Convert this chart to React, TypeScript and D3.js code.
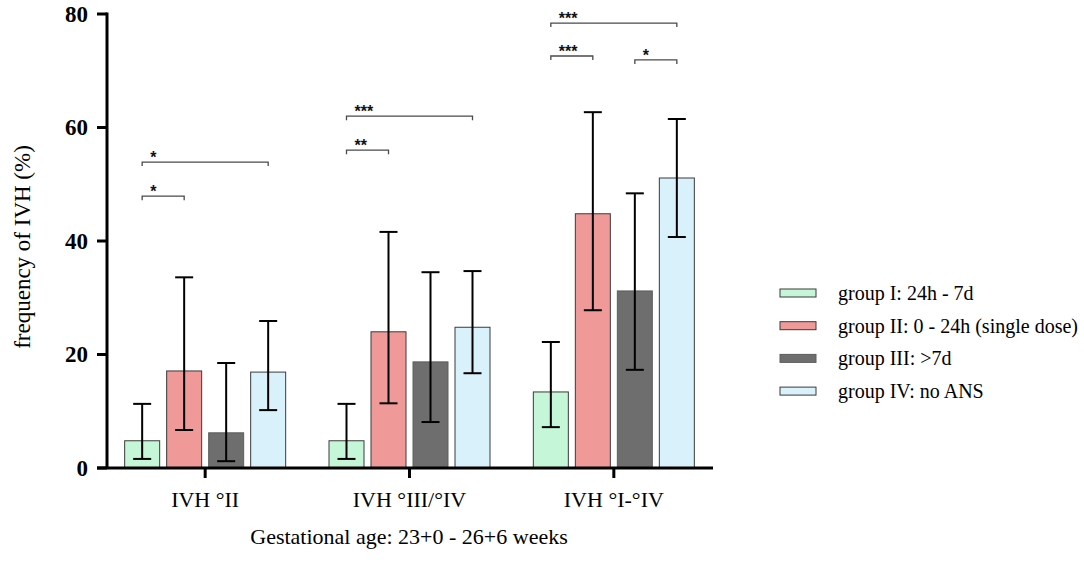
import React from "react";
import * as d3 from "d3";

const categories = ["IVH °II", "IVH °III/°IV", "IVH °I-°IV"];
const groups = ["group I: 24h - 7d", "group II: 0 - 24h (single dose)", "group III: >7d", "group IV: no ANS"];
const colors = ["#c6f6d8", "#ef9a98", "#6e6e6e", "#d9f1fb"];

// mean frequency per group, one value per category
const groupI = [4.8, 4.8, 13.4];
const groupII = [17.1, 24.0, 44.8];
const groupIII = [6.2, 18.7, 31.2];
const groupIV = [16.9, 24.8, 51.1];

// error bar bounds
const lowI = [1.6, 1.6, 7.2];
const lowII = [6.7, 11.4, 27.8];
const lowIII = [1.2, 8.1, 17.3];
const lowIV = [10.2, 16.7, 40.7];
const highI = [11.3, 11.3, 22.2];
const highII = [33.6, 41.6, 62.7];
const highIII = [18.5, 34.5, 48.4];
const highIV = [25.9, 34.7, 61.5];

const yTicks = [0, 20, 40, 60, 80];

// significance brackets: category, from group, to group, level, label
const sigCat = [0, 0, 1, 1, 2, 2, 2];
const sigFrom = [0, 0, 0, 0, 0, 2, 0];
const sigTo = [1, 3, 1, 3, 1, 3, 3];
const sigLevel = [47.9, 53.9, 56.0, 62.0, 72.6, 71.9, 78.4];
const sigLabel = ["*", "*", "**", "***", "***", "*", "***"];

const means = [groupI, groupII, groupIII, groupIV];
const lows = [lowI, lowII, lowIII, lowIV];
const highs = [highI, highII, highIII, highIV];

const width = 1084;
const height = 563;
const serif = "'Liberation Serif', 'Times New Roman', serif";

export default function App() {
    const x0 = d3.scaleBand().domain(categories).range([103, 716]);
    const x1 = d3.scaleBand().domain(groups).range([0, 161]).paddingInner(1 / 6);
    const y = d3.scaleLinear().domain([0, 80]).range([468, 14]);

    const groupLeft = (c: string) => (x0(c) as number) + x0.bandwidth() / 2 - 80.5;
    const barCenter = (ci: number, gi: number) =>
        groupLeft(categories[ci]) + (x1(groups[gi]) as number) + x1.bandwidth() / 2;

    const capHalf = 9;

    return (
        <svg width={width} height={height}
             style={{position: "absolute", left: 0, top: 0, background: "white"}}>
            {/* bars */}
            {groups.map((g, gi) => categories.map((c, ci) => (
                <rect key={`b${gi}-${ci}`}
                      x={groupLeft(c) + (x1(g) as number)}
                      y={y(means[gi][ci])}
                      width={x1.bandwidth()}
                      height={y(0) - y(means[gi][ci])}
                      fill={colors[gi]}
                      stroke={gi === 2 ? "#5e5e5e" : "#3a3a3a"}
                      strokeWidth={1}/>
            )))}

            {/* error bars */}
            {groups.map((g, gi) => categories.map((c, ci) => {
                const cx = barCenter(ci, gi);
                return (
                    <g key={`e${gi}-${ci}`} stroke="#000" strokeWidth={2}>
                        <line x1={cx} x2={cx} y1={y(lows[gi][ci])} y2={y(highs[gi][ci])}/>
                        <line x1={cx - capHalf} x2={cx + capHalf} y1={y(highs[gi][ci])} y2={y(highs[gi][ci])}/>
                        <line x1={cx - capHalf} x2={cx + capHalf} y1={y(lows[gi][ci])} y2={y(lows[gi][ci])}/>
                    </g>
                );
            }))}

            {/* significance brackets */}
            {sigCat.map((ci, i) => {
                const xa = barCenter(ci, sigFrom[i]);
                const xb = barCenter(ci, sigTo[i]);
                const yy = y(sigLevel[i]);
                return (
                    <g key={`s${i}`}>
                        <path d={`M${xa},${yy + 4}V${yy}H${xb}V${yy + 4}`}
                              fill="none" stroke="#4a4a4a" strokeWidth={1.3}/>
                        <text x={xa + 8} y={yy + 1} fontFamily="'Liberation Sans', Arial, sans-serif"
                              fontWeight="bold" fontSize={16} fill="#111">{sigLabel[i]}</text>
                    </g>
                );
            })}

            {/* y axis */}
            <line x1={107} x2={107} y1={y(80) - 1.5} y2={y(0)} stroke="#000" strokeWidth={3}/>
            {yTicks.map(t => (
                <g key={`t${t}`}>
                    <line x1={97} x2={107} y1={y(t)} y2={y(t)} stroke="#000" strokeWidth={3}/>
                    <text x={88} y={y(t)} dy="0.34em" textAnchor="end" fontFamily={serif}
                          fontWeight="bold" fontSize={23}>{t}</text>
                </g>
            ))}
            <text transform={`translate(30,${y(40) + 6}) rotate(-90)`} textAnchor="middle"
                  fontFamily={serif} fontSize={23}>frequency of IVH (%)</text>

            {/* x axis */}
            <line x1={97} x2={713} y1={y(0)} y2={y(0)} stroke="#000" strokeWidth={3}/>
            {categories.map(c => {
                const cx = (x0(c) as number) + x0.bandwidth() / 2;
                return (
                    <g key={c}>
                        <line x1={cx} x2={cx} y1={y(0)} y2={y(0) + 10} stroke="#000" strokeWidth={3}/>
                        <text x={cx} y={507} textAnchor="middle" fontFamily={serif} fontSize={22}>{c}</text>
                    </g>
                );
            })}
            <text x={409} y={544} textAnchor="middle" fontFamily={serif} fontSize={22}>
                Gestational age: 23+0 - 26+6 weeks
            </text>

            {/* legend */}
            {groups.map((g, gi) => {
                const ly = 293 + gi * 32.7;
                return (
                    <g key={`l${gi}`}>
                        <rect x={780} y={ly - 4} width={36} height={8} fill={colors[gi]}
                              stroke={gi === 2 ? "#5e5e5e" : "#3a3a3a"} strokeWidth={1}/>
                        <text x={838} y={ly + 7} fontFamily={serif} fontSize={20}>{g}</text>
                    </g>
                );
            })}
        </svg>
    );
}
